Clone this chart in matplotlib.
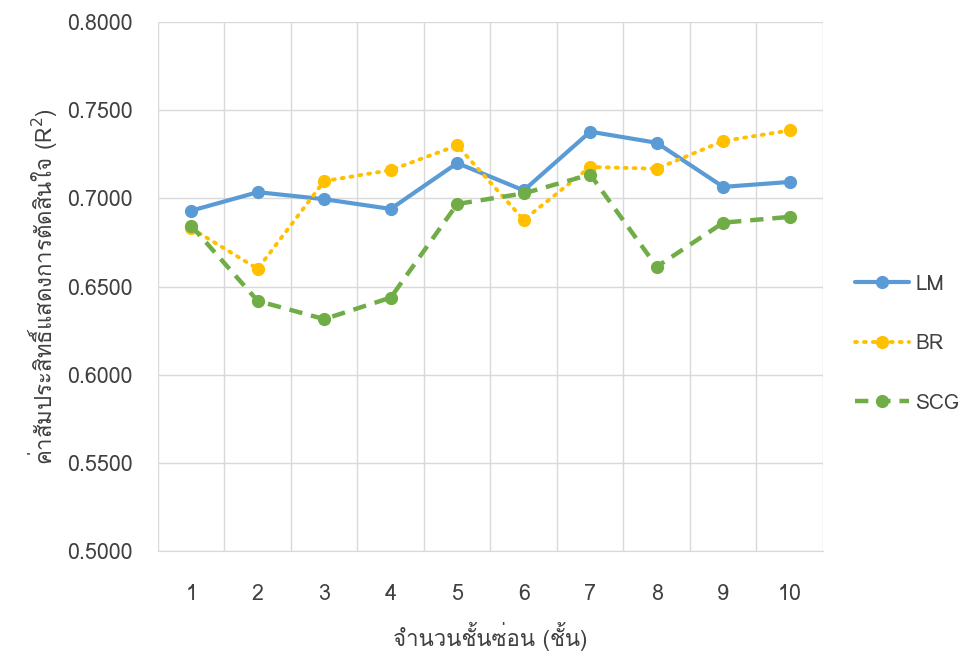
import matplotlib
matplotlib.use("Agg")
import matplotlib.pyplot as plt
from matplotlib import font_manager
from matplotlib.ft2font import FT2Font

# ข้อมูลจากกราฟ
layers = [1, 2, 3, 4, 5, 6, 7, 8, 9, 10]
lm = [0.6930, 0.7035, 0.6995, 0.6940, 0.7200, 0.7045, 0.7378, 0.7315, 0.7065, 0.7093]
br = [0.6830, 0.6600, 0.7098, 0.7160, 0.7300, 0.6878, 0.7178, 0.7168, 0.7325, 0.7385]
scg = [0.6845, 0.6418, 0.6315, 0.6437, 0.6968, 0.7028, 0.7135, 0.6612, 0.6862, 0.6895]
yticks = [0.50, 0.55, 0.60, 0.65, 0.70, 0.75, 0.80]


# หาฟอนต์ที่มีตัวอักษรไทย
def find_thai_font():
    for f in font_manager.fontManager.ttflist:
        try:
            ft = FT2Font(f.fname)
            if ft.get_char_index(0x0E08) and ft.get_char_index(0x0E31):
                return f.name
        except Exception:
            pass
    return None


thai = find_thai_font()
fams = [thai, "DejaVu Sans"] if thai else ["DejaVu Sans"]
plt.rcParams["font.family"] = fams

txt = "#404040"
fig = plt.figure(figsize=(9.64, 6.59), dpi=100)
ax = fig.add_axes([0.1639, 0.1639, 0.6898, 0.8027])

ax.plot(layers, lm, color="#5B9BD5", lw=3.0, marker="o", ms=8.5, label="LM",
        solid_capstyle="round")
ax.plot(layers, br, color="#FFC000", lw=2.8, ls=(0, (0.5, 1.8)), marker="o", ms=8.5,
        label="BR", dash_capstyle="round")
ax.plot(layers, scg, color="#70AD47", lw=3.2, ls=(0, (3.0, 2.0)), marker="o", ms=8.5,
        label="SCG")

ax.set_xlim(0.5, 10.5)
ax.set_ylim(0.5, 0.8)
ax.set_xticks(layers)
ax.set_xticks([x + 0.5 for x in range(0, 11)], minor=True)
ax.set_yticks(yticks)
ax.set_yticklabels([f"{v:.4f}" for v in yticks])
ax.grid(True, which="minor", axis="x", color="#D9D9D9", lw=1)
ax.grid(True, which="major", axis="y", color="#D9D9D9", lw=1)
ax.set_axisbelow(True)
ax.tick_params(which="both", length=0, labelsize=15.5, colors=txt)
ax.tick_params(axis="x", pad=24)
ax.tick_params(axis="y", pad=18)
for s in ax.spines.values():
    s.set_visible(False)
ax.spines["bottom"].set_visible(True)
ax.spines["bottom"].set_color("#D9D9D9")

ax.set_xlabel("จำนวนชั้นซ่อน (ชั้น)", fontsize=16, color=txt, labelpad=12)
ax.set_ylabel("ค่าสัมประสิทธิ์แสดงการตัดสินใจ (R$^2$)", fontsize=16, color=txt, labelpad=6)

ax.legend(loc="center left", bbox_to_anchor=(1.02, 0.392), frameon=False, fontsize=15,
          labelspacing=1.95, handlelength=2.6, handletextpad=0.3, labelcolor=txt)

fig.savefig("out.png", dpi=100)
